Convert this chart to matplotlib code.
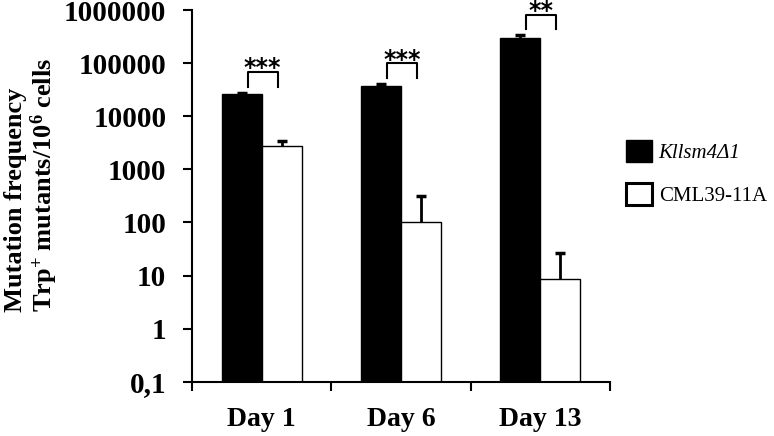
import matplotlib
matplotlib.use("Agg")
import matplotlib.pyplot as plt
from matplotlib.patches import Patch
import numpy as np

plt.rcParams['font.family'] = ['Liberation Serif', 'DejaVu Serif']
plt.rcParams['mathtext.fontset'] = 'custom'
plt.rcParams['mathtext.rm'] = 'Liberation Serif:bold'
plt.rcParams['mathtext.bf'] = 'Liberation Serif:bold'
plt.rcParams['mathtext.default'] = 'bf'

days = ["Day 1", "Day 6", "Day 13"]
mutant = [26200, 37000, 297000]
mutant_err = [1500, 3500, 35000]
wild = [2750, 100, 8.5]
wild_err = [600, 214, 17.7]
stars = ["***", "***", "**"]
series_names = ["Kllsm4Δ1", "CML39-11A"]

fig = plt.figure(figsize=(7.74, 4.36), dpi=100)
ax = fig.add_axes([0.248, 0.1245, 0.54, 0.8525])

x = np.arange(len(days))
w = 0.287
eb = dict(ecolor='black', elinewidth=2, capsize=3.5, capthick=2.5)
b1 = ax.bar(x - w / 2, mutant, w, color='black', edgecolor='black', linewidth=1,
            yerr=[[0] * 3, mutant_err], error_kw=eb)
b2 = ax.bar(x + w / 2, wild, w, color='white', edgecolor='black', linewidth=1,
            yerr=[[0] * 3, wild_err], error_kw=eb)
# only upper caps
for b in (b1, b2):
    b.errorbar.lines[1][0].set_visible(False)

ax.set_yscale('log')
ax.set_ylim(0.1, 1e6)
ax.set_xlim(-0.5, 2.5)

# significance brackets
for i, s in enumerate(stars):
    base = (mutant[i] + mutant_err[i]) * 1.3
    top = base * 1.9
    ax.plot([i - 0.1, i - 0.1, i + 0.115, i + 0.115], [base, top, top, base],
            color='black', lw=1.5, clip_on=False)
    ax.text(i + 0.008, top * 0.86, s, ha='center', va='baseline',
            fontsize=17, fontweight='bold', family='DejaVu Sans')

yt = [0.1, 1, 10, 100, 1000, 10000, 100000, 1000000]
ax.set_yticks(yt, ["0,1"] + [str(int(v)) for v in yt[1:]])
ax.minorticks_off()
ax.tick_params(axis='y', length=6.5, width=1.5, pad=12, labelsize=21)
ax.set_xticks(x, days)
ax.set_xticks(np.arange(-0.5, 3, 1), minor=True)
ax.tick_params(axis='x', which='major', length=0, pad=18, labelsize=20)
ax.tick_params(axis='x', which='minor', length=6.5, width=1.5)
for lab in ax.get_xticklabels() + ax.get_yticklabels():
    lab.set_fontweight('bold')

for sp in ['top', 'right']:
    ax.spines[sp].set_visible(False)
for sp in ['left', 'bottom']:
    ax.spines[sp].set_linewidth(1.5)

ax.set_ylabel("Mutation frequency\nTrp$^{+}$ mutants/10$^{6}$ cells",
              fontsize=19, fontweight='bold', linespacing=1.05,
              multialignment='left')
ax.yaxis.set_label_coords(-0.316, 0.529)

handles = [Patch(facecolor='black', edgecolor='black'),
           Patch(facecolor='white', edgecolor='black', linewidth=2.2)]
leg = fig.legend(handles, series_names, loc='center left',
                 bbox_to_anchor=(0.785, 0.603), frameon=False, fontsize=15,
                 handlelength=1.25, handleheight=1.25, labelspacing=0.95,
                 handletextpad=0.3)
leg.get_texts()[0].set_style('italic')

fig.savefig("out.png", dpi=100)
